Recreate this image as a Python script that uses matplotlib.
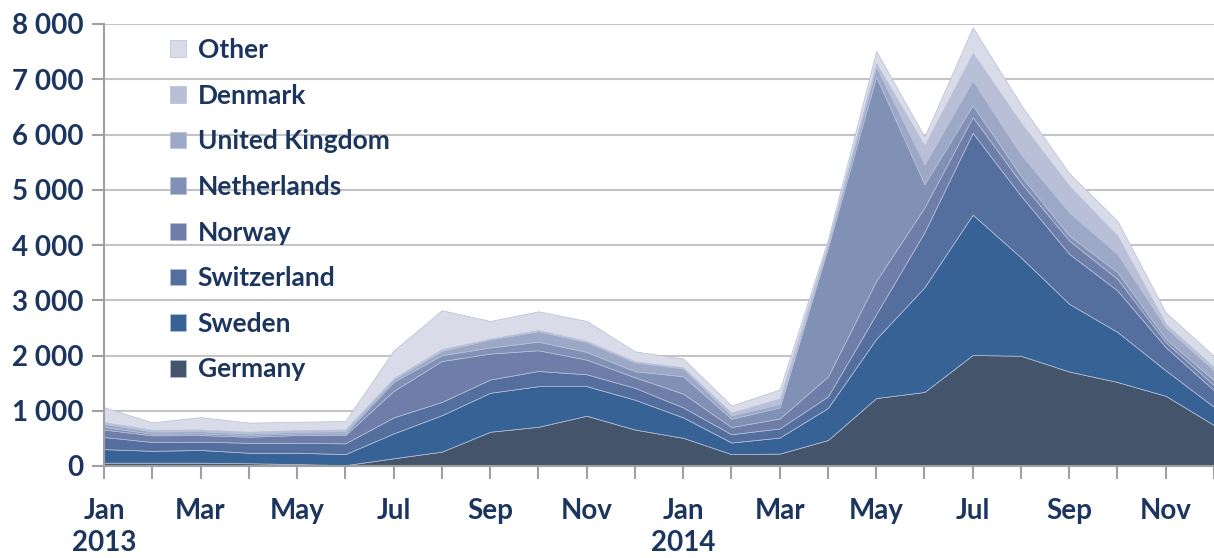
import numpy as np
import matplotlib.pyplot as plt
from matplotlib.ticker import FuncFormatter

plt.rcParams['font.family'] = ['Lato', 'DejaVu Sans']
plt.rcParams['font.weight'] = 'bold'

# monthly values, Jan 2013 .. Dec 2014
months = ['Jan', 'Feb', 'Mar', 'Apr', 'May', 'Jun',
          'Jul', 'Aug', 'Sep', 'Oct', 'Nov', 'Dec'] * 2
years = ['2013', '2014']

germany = [60, 60, 60, 50, 35, 15, 140, 260, 620, 710, 910, 660,
           510, 215, 225, 470, 1230, 1340, 2010, 1995, 1710, 1520, 1270, 740]
sweden = [245, 215, 230, 190, 205, 200, 450, 660, 705, 735, 535, 540,
          370, 210, 290, 580, 1070, 1895, 2540, 1780, 1225, 905, 460, 330]
switzerland = [220, 160, 150, 180, 180, 195, 290, 240, 240, 275, 215, 215,
               180, 150, 165, 210, 450, 995, 1480, 1115, 905, 750, 420, 300]
norway = [135, 120, 120, 110, 140, 150, 480, 740, 470, 375, 265, 190,
          250, 130, 180, 360, 600, 450, 285, 240, 240, 210, 90, 90]
netherlands = [45, 30, 30, 30, 30, 30, 165, 105, 110, 155, 140, 110,
               315, 150, 200, 2330, 3700, 420, 215, 120, 90, 120, 60, 90]
united_kingdom = [60, 40, 40, 30, 30, 40, 45, 80, 145, 190, 180, 160,
                  140, 60, 60, 50, 180, 360, 445, 390, 420, 330, 210, 180]
denmark = [30, 30, 30, 30, 30, 30, 20, 30, 15, 20, 20, 20,
           20, 50, 100, 30, 60, 340, 500, 570, 480, 330, 60, 60]
other = [270, 135, 225, 165, 150, 155, 500, 705, 320, 340, 360, 180,
         160, 130, 165, 70, 225, 160, 465, 330, 230, 270, 210, 200]

labels = ['Germany', 'Sweden', 'Switzerland', 'Norway', 'Netherlands',
          'United Kingdom', 'Denmark', 'Other']
colors = ['#44546A', '#366295', '#546F9E', '#6E7EA9', '#8191B5',
          '#9DA8C7', '#B9BFD6', '#D9DCE8']
text_color = '#1B355F'

fig = plt.figure(figsize=(12.14, 5.58), dpi=100)
ax = fig.add_axes([104 / 1214, 92 / 558, 1110 / 1214, 442 / 558])

x = np.arange(len(germany))
ax.stackplot(x, germany, sweden, switzerland, norway, netherlands,
             united_kingdom, denmark, other,
             colors=colors, labels=labels,
             edgecolor='#B4C0D8', linewidth=0.5, zorder=2)

ax.set_xlim(0, len(x) - 1)
ax.set_ylim(0, 8000)
ax.set_yticks(np.arange(0, 8001, 1000))
ax.yaxis.set_major_formatter(FuncFormatter(lambda v, p: f'{v:,.0f}'.replace(',', ' ')))
ax.grid(axis='y', color='#C4C4C4', linewidth=1.5, zorder=0)
ax.set_axisbelow(True)

# label every other month, year under each January
tick_labels = []
for i, m in enumerate(months):
    if i % 2:
        tick_labels.append('')
    elif i % 12 == 0:
        tick_labels.append(m + '\n' + years[i // 12])
    else:
        tick_labels.append(m)
ax.set_xticks(x)
ax.set_xticklabels(tick_labels, linespacing=1.3)

for s in ['top', 'right']:
    ax.spines[s].set_visible(False)
for s in ['left', 'bottom']:
    ax.spines[s].set_color('#A0A0A0')
    ax.spines[s].set_linewidth(1.5)
    ax.spines[s].set_zorder(3)

ax.tick_params(axis='x', length=9, width=1.5, color='#A0A0A0', pad=14,
               labelsize=20, labelcolor=text_color)
ax.tick_params(axis='y', length=9, width=1.5, color='#A0A0A0', pad=6,
               labelsize=20, labelcolor=text_color)

handles, names = ax.get_legend_handles_labels()
leg = ax.legend(handles[::-1], names[::-1], loc='upper left',
                bbox_to_anchor=(0.038, 1.022), frameon=False,
                fontsize=19, handlelength=0.6, handleheight=0.6,
                handletextpad=0.45, labelspacing=0.82)
for t in leg.get_texts():
    t.set_color(text_color)
    t.set_fontweight('bold')

fig.savefig('out.png', dpi=100)
